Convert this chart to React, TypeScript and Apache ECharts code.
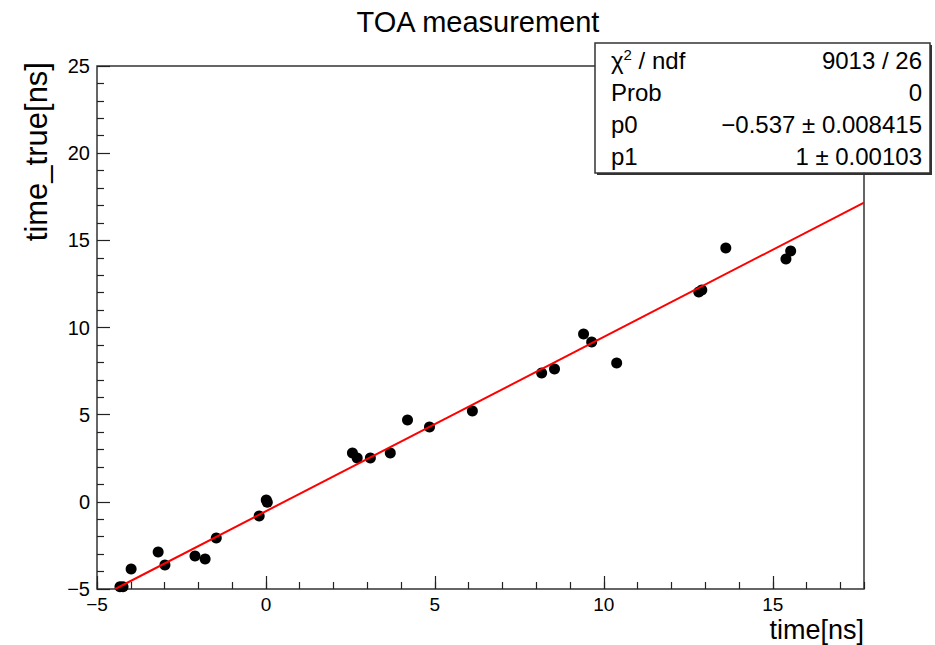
import React, { useEffect, useRef } from "react";
import * as echarts from "echarts";

const timeX = [-4.32, -4.23, -3.99, -3.19, -2.99, -2.10, -1.80, -1.47, -0.20, 0.01, 0.04, 2.56, 2.70, 3.09, 3.68, 4.19, 4.84, 6.11, 8.16, 8.54, 9.40, 9.64, 10.38, 12.81, 12.90, 13.61, 15.39, 15.53];
const timeTrue = [-4.87, -4.87, -3.85, -2.88, -3.62, -3.11, -3.28, -2.07, -0.81, 0.11, -0.02, 2.80, 2.52, 2.52, 2.80, 4.70, 4.29, 5.21, 7.39, 7.62, 9.63, 9.17, 7.97, 12.04, 12.15, 14.56, 13.93, 14.39];

const fitP0 = -0.537;
const fitP1 = 1;
const xRange = [-5, 17.7];
const yRange = [-5, 25];

const statLabels = ["χ{sup|2} / ndf", "Prob", "p0", "p1"];
const statValues = ["9013 / 26", "0", "−0.537 ± 0.008415", "1 ± 0.00103"];

const FONT = "'Liberation Sans', Arial, Helvetica, sans-serif";

const fmt = (v: number) => (v < 0 ? "−" + Math.abs(v) : String(v));

export default function App() {
  const ref = useRef<HTMLDivElement>(null);
  useEffect(() => {
    if (!ref.current) return;
    const chart = echarts.init(ref.current, undefined, { renderer: "svg" });
    const points = timeX.map((x, i) => [x, timeTrue[i]]);
    const xStart = (yRange[0] - fitP0) / fitP1;
    const fitLine = [
      [xStart, fitP0 + fitP1 * xStart],
      [xRange[1], fitP0 + fitP1 * xRange[1]],
    ];
    const boxX = 595, boxY = 43, boxW = 335, boxH = 130;
    const rowY = [60, 92, 124, 156];
    const statGraphics: any[] = [];
    statLabels.forEach((lab, i) => {
      statGraphics.push({
        type: "text",
        x: 611,
        y: rowY[i],
        z: 102,
        style: {
          text: lab,
          font: `24px ${FONT}`,
          fill: "#000",
          align: "left",
          verticalAlign: "middle",
          rich: {
            sup: { fontSize: 15, fontFamily: FONT, verticalAlign: "top", padding: [0, 0, 12, 0] },
          },
        },
      });
      statGraphics.push({
        type: "text",
        x: 922,
        y: rowY[i],
        z: 102,
        style: {
          text: statValues[i],
          font: `24px ${FONT}`,
          fill: "#000",
          align: "right",
          verticalAlign: "middle",
        },
      });
    });

    const tickStyle = { color: "#222", width: 1.2 };

    chart.setOption({
      animation: false,
      backgroundColor: "#fff",
      textStyle: { fontFamily: FONT },
      grid: {
        left: 97,
        top: 66,
        right: 71,
        bottom: 56,
        show: true,
        borderColor: "#333",
        borderWidth: 1.5,
        backgroundColor: "transparent",
      },
      xAxis: [
        {
          type: "value",
          min: xRange[0],
          max: xRange[1],
          interval: 5,
          position: "bottom",
          axisLine: { show: false, onZero: false },
          axisTick: { show: true, inside: true, length: 13, lineStyle: tickStyle },
          splitLine: { show: false },
          axisLabel: {
            color: "#000",
            fontSize: 19,
            fontFamily: FONT,
            margin: 6,
            showMaxLabel: false,
            formatter: (v: number) => (Math.abs(v - xRange[1]) < 1e-6 ? "" : fmt(v)),
          },
        },
        {
          type: "value",
          min: xRange[0],
          max: xRange[1],
          interval: 1,
          position: "bottom",
          axisLine: { show: false, onZero: false },
          axisTick: { show: true, inside: true, length: 7, lineStyle: tickStyle },
          splitLine: { show: false },
          axisLabel: { show: false },
        },
      ],
      yAxis: {
        type: "value",
        min: yRange[0],
        max: yRange[1],
        interval: 5,
        axisLine: { show: false, onZero: false },
        axisTick: { show: true, inside: true, length: 13, lineStyle: tickStyle },
        minorTick: { show: true, splitNumber: 5, length: 7, lineStyle: tickStyle },
        splitLine: { show: false },
        axisLabel: { color: "#000", fontSize: 20, fontFamily: FONT, margin: 7, formatter: fmt },
      },
      series: [
        {
          type: "scatter",
          xAxisIndex: 0,
          data: points,
          symbol: "circle",
          symbolSize: 11,
          itemStyle: { color: "#000", opacity: 1 },
          z: 3,
        },
        {
          type: "line",
          xAxisIndex: 0,
          data: fitLine,
          symbol: "none",
          lineStyle: { color: "#ff0000", width: 2 },
          z: 4,
          clip: true,
        },
      ],
      graphic: [
        {
          type: "text",
          x: 478,
          y: 22,
          style: { text: "TOA measurement", font: `29px ${FONT}`, fill: "#000", align: "center", verticalAlign: "middle" },
        },
        {
          type: "text",
          x: 864,
          y: 630,
          style: { text: "time[ns]", font: `27px ${FONT}`, fill: "#000", align: "right", verticalAlign: "middle" },
        },
        {
          type: "text",
          x: 36,
          y: 62,
          rotation: Math.PI / 2,
          style: { text: "time_true[ns]", font: `31px ${FONT}`, fill: "#000", align: "right", verticalAlign: "middle" },
        },
        {
          type: "rect",
          shape: { x: boxX + 2, y: boxY + 2, width: boxW, height: boxH },
          style: { fill: "#333" },
          z: 100,
        },
        {
          type: "rect",
          shape: { x: boxX, y: boxY, width: boxW, height: boxH },
          style: { fill: "#fff", stroke: "#333", lineWidth: 1.5 },
          z: 101,
        },
        ...statGraphics,
      ],
    });
    return () => chart.dispose();
  }, []);
  return (
    <div
      ref={ref}
      style={{ position: "absolute", left: 0, top: 0, width: 935, height: 645 }}
    />
  );
}
